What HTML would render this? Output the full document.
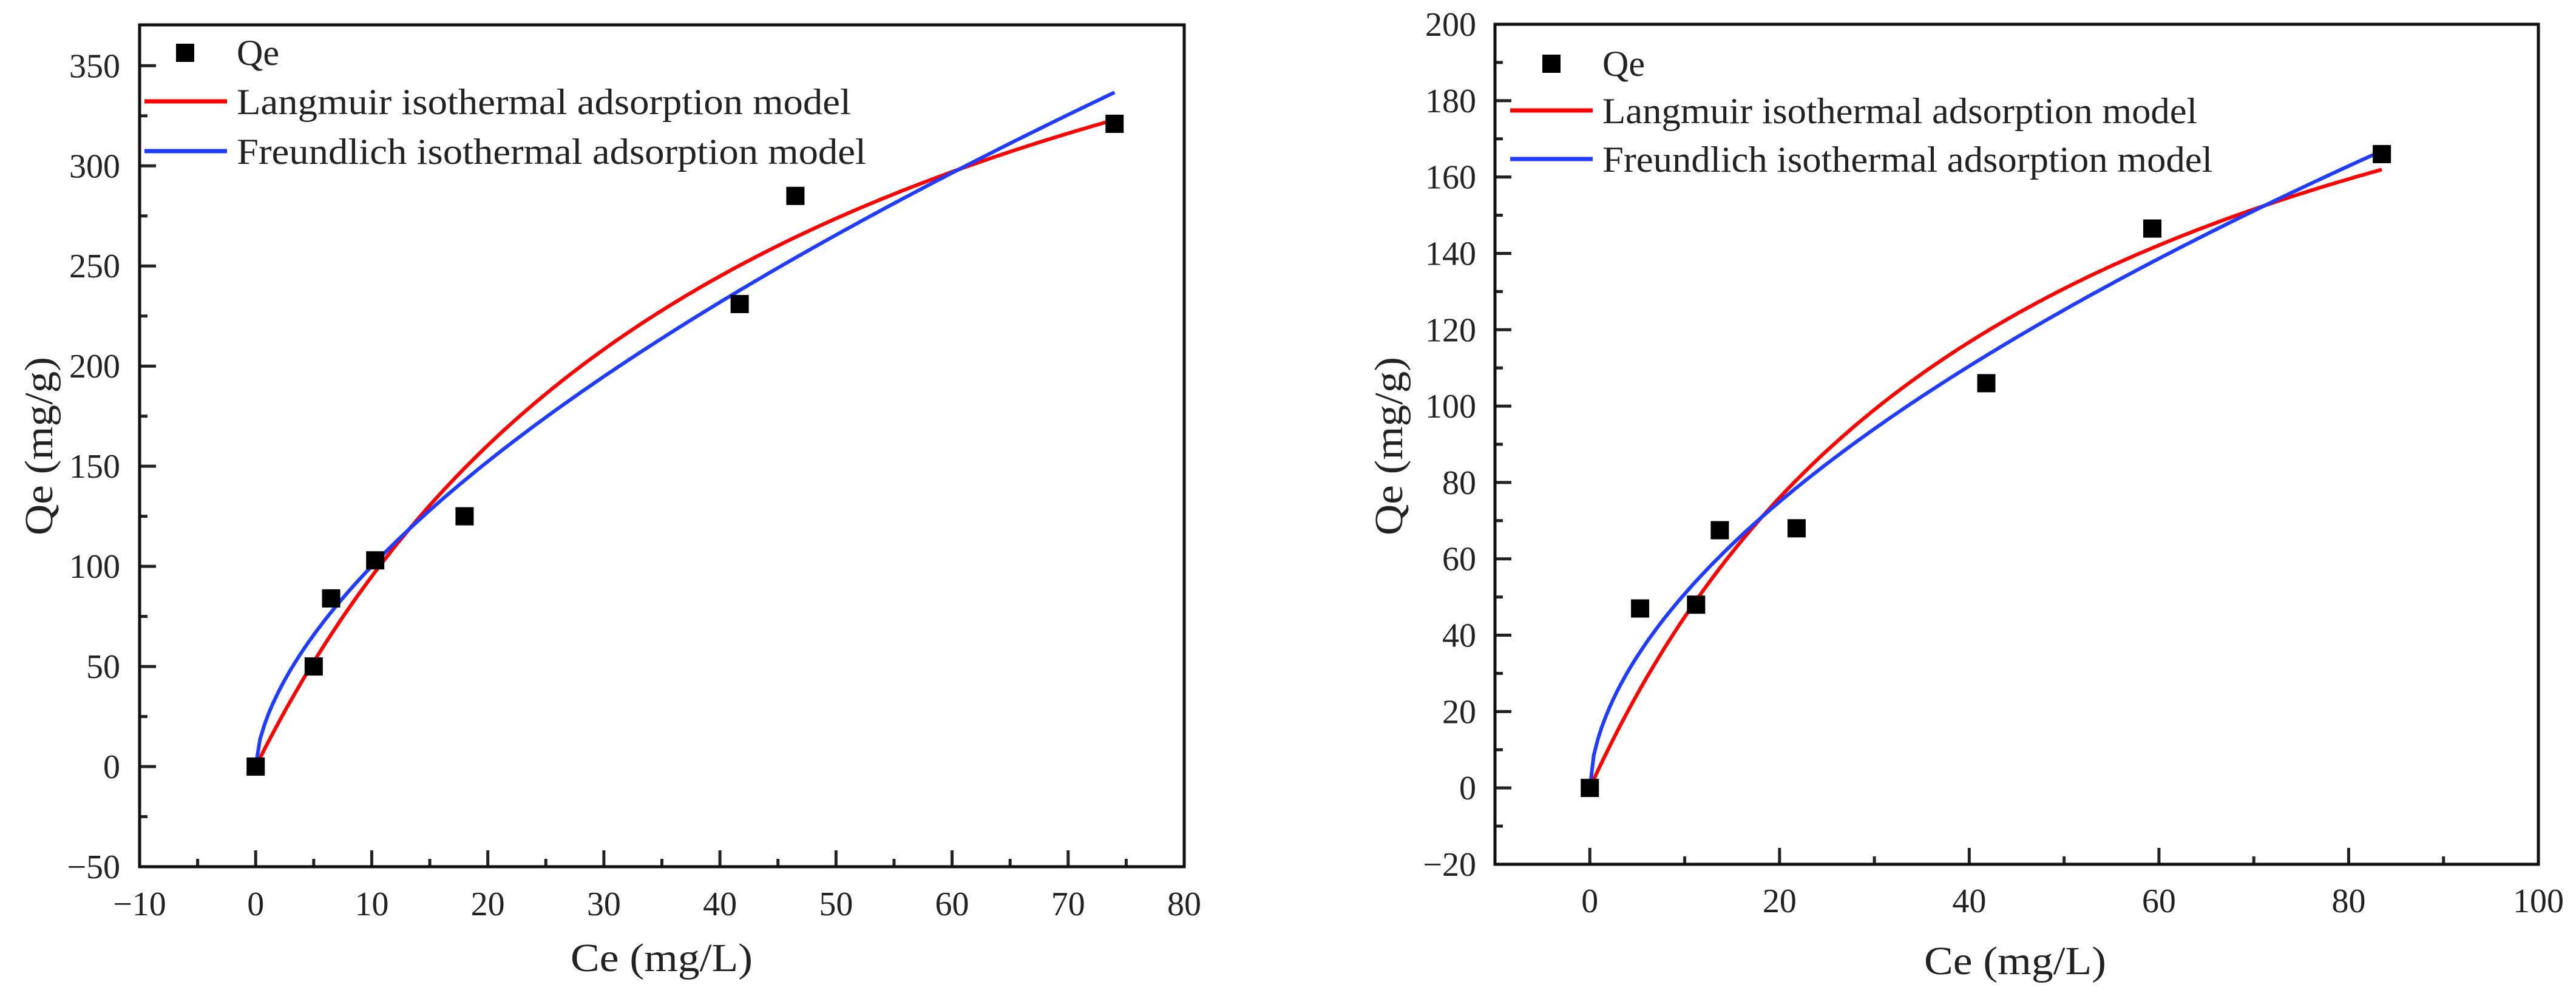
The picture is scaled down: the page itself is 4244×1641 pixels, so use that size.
<!DOCTYPE html>
<html><head><meta charset="utf-8"><style>
html,body{margin:0;padding:0;background:#fff}
svg{display:block}
text{font-family:"Liberation Serif","Times New Roman",serif;fill:#222}
</style></head><body>
<svg id="fig" width="4244" height="1641" viewBox="0 0 4244 1641" xmlns="http://www.w3.org/2000/svg">
<g id="left"></g>
<g id="right"></g>
</svg>
<script>
// Left chart data
const leftCe = [0, 5, 6.5, 10.3, 18, 41.7, 46.5, 74];
const leftQe = [0, 50, 84, 103, 125, 231, 285, 321];
const leftLangmuir = [517, 0.0225];   // qm, KL
const leftFreundlich = [24.8, 0.606]; // KF, 1/n
const leftXTicks = [-10, 0, 10, 20, 30, 40, 50, 60, 70, 80];
const leftYTicks = [-50, 0, 50, 100, 150, 200, 250, 300, 350];
// Right chart data
const rightCe = [0, 5.3, 11.2, 13.7, 21.8, 41.8, 59.3, 83.5];
const rightQe = [0, 47, 48, 67.5, 68, 106, 146.5, 166];
const rightLangmuir = [251.5, 0.02166];
const rightFreundlich = [14.0, 0.56];
const rightXTicks = [0, 20, 40, 60, 80, 100];
const rightYTicks = [-20, 0, 20, 40, 60, 80, 100, 120, 140, 160, 180, 200];

const NS = "http://www.w3.org/2000/svg";
function mk(parent, tag, attrs, txt) {
  const e = document.createElementNS(NS, tag);
  for (const k in attrs) e.setAttribute(k, attrs[k]);
  if (txt !== undefined) e.textContent = txt;
  parent.appendChild(e);
  return e;
}

function drawChart(g, cfg) {
  const sx = v => cfg.x0 + (v - cfg.xmin) / (cfg.xmax - cfg.xmin) * (cfg.x1 - cfg.x0);
  const sy = v => cfg.y1 - (v - cfg.ymin) / (cfg.ymax - cfg.ymin) * (cfg.y1 - cfg.y0);
  for (let v = cfg.xmin; v <= cfg.xmax + 1e-9; v += cfg.xMinor) {
    const isMajor = cfg.xTicks.some(t => Math.abs(t - v) < 1e-9);
    if (isMajor) continue;
    const t = mk(g, "line", {x1: sx(v), x2: sx(v), y1: cfg.y1, y2: cfg.y1 - 13, stroke: "#222", "stroke-width": 5});
    
    
  }
  for (let v = cfg.ymin; v <= cfg.ymax + 1e-9; v += cfg.yMinor) {
    const isMajor = cfg.yTicks.some(t => Math.abs(t - v) < 1e-9);
    if (isMajor) continue;
    const t = mk(g, "line", {x1: cfg.x0, x2: cfg.x0 + 13, y1: sy(v), y2: sy(v), stroke: "#222", "stroke-width": 5});
    
    
  }
  cfg.xTicks.forEach(v => {
    if (v > cfg.xmin && v < cfg.xmax) {
      const t = mk(g, "line", {x1: sx(v), x2: sx(v), y1: cfg.y1, y2: cfg.y1 - 27, stroke: "#222", "stroke-width": 5});
      
      
    }
    const l = mk(g, "text", {x: sx(v), y: cfg.xLabelY, "text-anchor": "middle", "font-size": 56}, String(v).replace('-', '\u2212'));
    
    
  });
  cfg.yTicks.forEach(v => {
    if (v > cfg.ymin && v < cfg.ymax) {
      const t = mk(g, "line", {x1: cfg.x0, x2: cfg.x0 + 27, y1: sy(v), y2: sy(v), stroke: "#222", "stroke-width": 5});
      
      
    }
    const l = mk(g, "text", {x: cfg.yLabelX, y: sy(v) + 19, "text-anchor": "end", "font-size": 56}, String(v).replace('-', '\u2212'));
    
    
  });
  const frame = mk(g, "rect", {x: cfg.x0, y: cfg.y0, width: cfg.x1 - cfg.x0, height: cfg.y1 - cfg.y0, fill: "none", stroke: "#111", "stroke-width": 5});
  
  

  const N = 200;
  const lang = [], fr = [];
  for (let i = 0; i <= N; i++) {
    const c = cfg.cmax * i / N;
    const ql = cfg.lang[0] * cfg.lang[1] * c / (1 + cfg.lang[1] * c);
    const qf = cfg.fr[0] * Math.pow(c, cfg.fr[1]);
    lang.push(sx(c).toFixed(1) + "," + sy(ql).toFixed(1));
    fr.push(sx(c).toFixed(1) + "," + sy(qf).toFixed(1));
  }
  const pl = mk(g, "polyline", {points: lang.join(" "), fill: "none", stroke: "#ff0000", "stroke-width": 6});
  
  
  const pf = mk(g, "polyline", {points: fr.join(" "), fill: "none", stroke: "#1f3cff", "stroke-width": 6});
  
  

  cfg.ce.forEach((c, i) => {
    const r = mk(g, "rect", {x: sx(c) - 15, y: sy(cfg.qe[i]) - 15, width: 30, height: 30, fill: "#000"});
    
    
  });

  const L = cfg.leg;
  const m = mk(g, "rect", {x: L.mx - 15, y: L.my - 15, width: 30, height: 30, fill: "#000"});
  
  
  const t1 = mk(g, "text", {x: L.tx, y: L.my + 20, "font-size": 60}, "Qe");
  
  
  const l1 = mk(g, "line", {x1: L.lx0, x2: L.lx1, y1: L.ly1, y2: L.ly1, stroke: "#ff0000", "stroke-width": 7});
  
  
  const t2 = mk(g, "text", {x: L.tx, y: L.ly1 + 21, "font-size": 60, textLength: L.len1, lengthAdjust: "spacingAndGlyphs"}, "Langmuir isothermal adsorption model");
  
  
  const l2 = mk(g, "line", {x1: L.lx0, x2: L.lx1, y1: L.ly2, y2: L.ly2, stroke: "#1f3cff", "stroke-width": 7});
  
  
  const t3 = mk(g, "text", {x: L.tx, y: L.ly2 + 21, "font-size": 60, textLength: L.len2, lengthAdjust: "spacingAndGlyphs"}, "Freundlich isothermal adsorption model");
  
  

  const xt = mk(g, "text", {x: cfg.xTitle[0], y: cfg.xTitle[1], "text-anchor": "middle", "font-size": 66, textLength: 300, lengthAdjust: "spacingAndGlyphs"}, "Ce (mg/L)");
  
  
  const yt = mk(g, "text", {x: 0, y: 0, "text-anchor": "middle", "font-size": 66, textLength: 294, lengthAdjust: "spacingAndGlyphs",
    transform: "translate(" + cfg.yTitle[0] + "," + cfg.yTitle[1] + ") rotate(-90)"}, "Qe (mg/g)");
  
  
}

drawChart(document.getElementById("left"), {
  x0: 230, x1: 1951, y0: 41, y1: 1428, xmin: -10, xmax: 80, ymin: -50, ymax: 370.4,
  xTicks: leftXTicks, yTicks: leftYTicks, xMinor: 5, yMinor: 25,
  xLabelY: 1508, yLabelX: 198,
  ce: leftCe, qe: leftQe, lang: leftLangmuir, fr: leftFreundlich, cmax: 74,
  leg: {mx: 305, my: 87, tx: 390, lx0: 238, lx1: 374, ly1: 167, ly2: 249, len1: 1012, len2: 1037},
  xTitle: [1090, 1600], yTitle: [86, 735]
});
drawChart(document.getElementById("right"), {
  x0: 2463, x1: 4182, y0: 40, y1: 1424, xmin: -10, xmax: 100, ymin: -20, ymax: 200,
  xTicks: rightXTicks, yTicks: rightYTicks, xMinor: 10, yMinor: 10,
  xLabelY: 1503, yLabelX: 2432,
  ce: rightCe, qe: rightQe, lang: rightLangmuir, fr: rightFreundlich, cmax: 83.5,
  leg: {mx: 2556, my: 105, tx: 2640, lx0: 2488, lx1: 2624, ly1: 182, ly2: 262, len1: 980, len2: 1005},
  xTitle: [3320, 1605], yTitle: [2310, 735]
});
</script>
</body></html>
